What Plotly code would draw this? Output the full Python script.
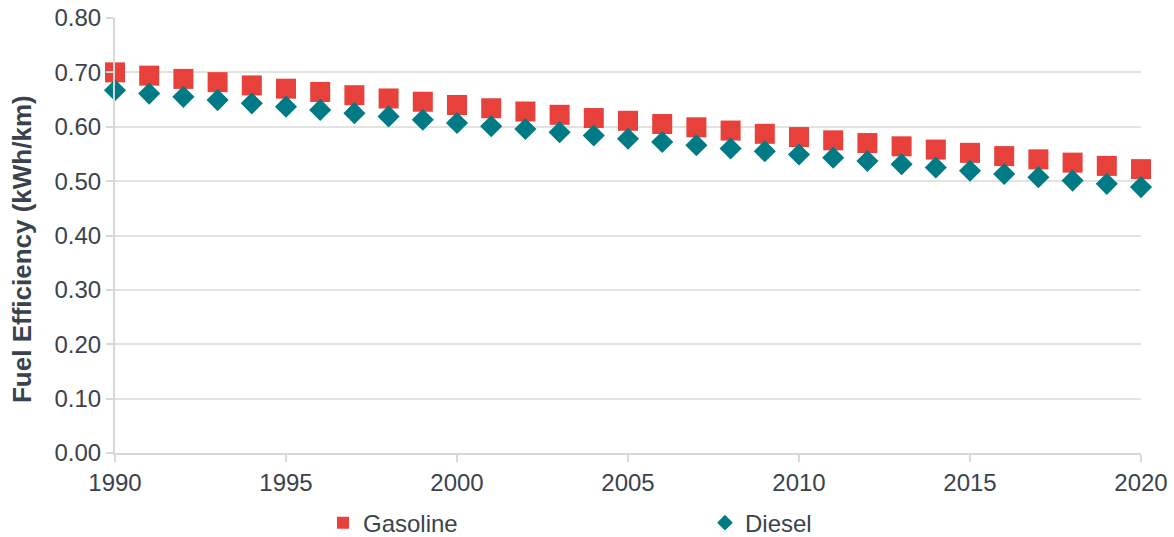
import plotly.graph_objects as go

years = list(range(1990, 2021))

gasoline = [0.700, 0.694, 0.688, 0.682, 0.676, 0.670, 0.664, 0.658, 0.652, 0.646,
            0.640, 0.634, 0.628, 0.622, 0.616, 0.611, 0.605, 0.599, 0.593, 0.587,
            0.581, 0.575, 0.570, 0.564, 0.558, 0.552, 0.546, 0.540, 0.534, 0.528,
            0.522]

diesel = [0.667, 0.661, 0.655, 0.649, 0.643, 0.637, 0.631, 0.625, 0.619, 0.613,
          0.607, 0.601, 0.596, 0.590, 0.584, 0.578, 0.572, 0.566, 0.560, 0.555,
          0.549, 0.543, 0.537, 0.531, 0.525, 0.519, 0.513, 0.507, 0.501, 0.495,
          0.489]

y_ticks = [0.0, 0.1, 0.2, 0.3, 0.4, 0.5, 0.6, 0.7, 0.8]
x_ticks = [1990, 1995, 2000, 2005, 2010, 2015, 2020]
y_title = "Fuel Efficiency (kWh/km)"

RED = "#e8403a"
TEAL = "#007a84"
TEXT = "#3a434c"
AXIS = "#d3dbd3"
GRID = "#e0e3e0"
FONT = "Liberation Sans, Arial, sans-serif"
FS = 24

fig = go.Figure()
fig.add_trace(go.Scatter(
    x=years, y=gasoline, name="Gasoline", mode="markers",
    marker=dict(symbol="square", size=20, color=RED),
    cliponaxis=False,
))
fig.add_trace(go.Scatter(
    x=years, y=diesel, name="Diesel", mode="markers",
    marker=dict(symbol="diamond", size=17, color=TEAL),
    cliponaxis=False,
))

# vertical axis title placed as a rotated annotation left of the tick labels
fig.add_annotation(
    text=f"<b>{y_title}</b>", textangle=-90,
    xref="paper", yref="paper", x=-0.0906, y=0.469,
    xanchor="center", yanchor="middle", showarrow=False,
    font=dict(family=FONT, size=26, color=TEXT),
)

fig.update_layout(
    width=1174, height=537,
    margin=dict(l=115, r=33, t=18, b=84, autoexpand=False),
    paper_bgcolor="white", plot_bgcolor="white",
    font=dict(family=FONT, size=FS, color=TEXT),
    showlegend=True,
    legend=dict(
        orientation="h", x=0.2027, xanchor="left", y=-0.161, yanchor="middle",
        font=dict(size=FS, color=TEXT),
        entrywidth=337, entrywidthmode="pixels",
        itemsizing="constant",
    ),
    xaxis=dict(
        range=[1990, 2020], tickvals=x_ticks,
        showgrid=False, zeroline=False,
        showline=True, linecolor=AXIS, linewidth=2,
        ticks="outside", ticklen=7, tickcolor=AXIS, tickwidth=2,
        tickfont=dict(size=FS, color=TEXT),
    ),
    yaxis=dict(
        range=[0, 0.8], tickvals=y_ticks, tickformat=".2f",
        showgrid=True, gridcolor=GRID, gridwidth=1.5, zeroline=False,
        showline=True, linecolor=AXIS, linewidth=2,
        ticks="outside", ticklen=7, tickcolor=AXIS, tickwidth=2,
        tickfont=dict(size=FS, color=TEXT),
    ),
)

fig.write_html("out.html")
